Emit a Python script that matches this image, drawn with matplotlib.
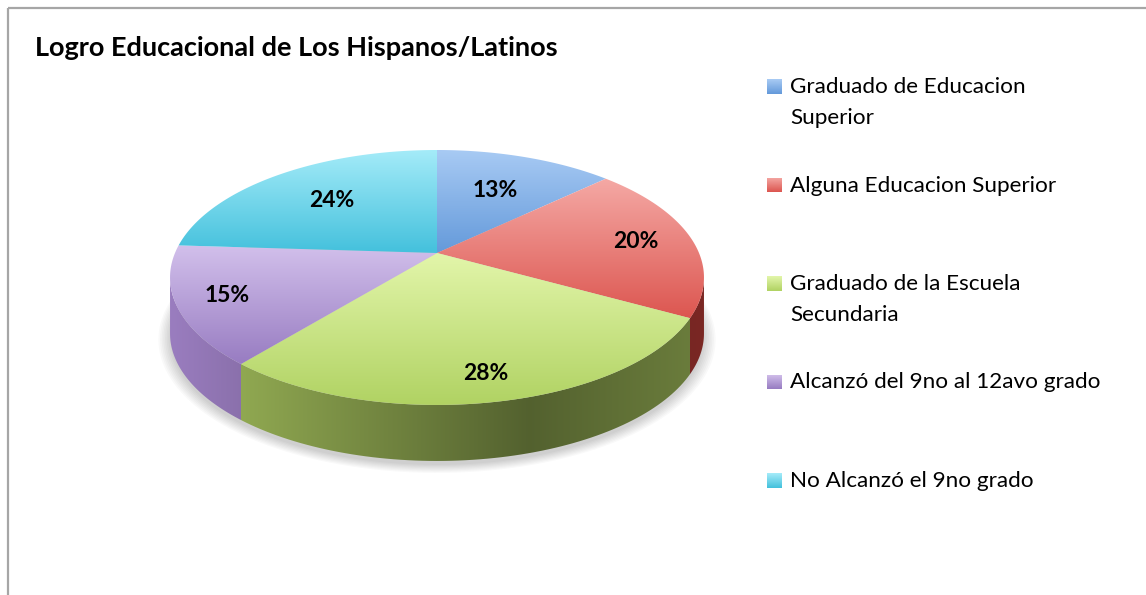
import numpy as np
import matplotlib
matplotlib.use('Agg')
import matplotlib.pyplot as plt
from matplotlib.patches import Polygon, Rectangle
from matplotlib.colors import to_rgb

# data
categories = ['Graduado de Educacion\nSuperior', 'Alguna Educacion Superior',
              'Graduado de la Escuela\nSecundaria', 'Alcanzó del 9no al 12avo grado',
              'No Alcanzó el 9no grado']
values = [13, 20, 28, 15, 24]
pct_labels = ['13%', '20%', '28%', '15%', '24%']

# colours: top face gradient (light -> dark) and side base colour
top_light = ['#a9cbf4', '#f5aaa6', '#e3f6ab', '#d3c1ec', '#a6ecf9']
top_dark = ['#6399da', '#dc554f', '#b0d262', '#977bc1', '#42c0dc']
side_base = ['#4f7fc0', '#b53a35', '#a0bb5a', '#9a7dbf', '#3aa8c4']
label_r = [0.62, 0.78, 0.84, 0.82, 0.64]

W, H = 1146, 595
cx, cy, rx = 437, 253, 262
pa, pc = 74.2, -0.192      # simple perspective
depth = 56


def project(t, r=1.0, dy=0.0):
    u = r * np.cos(t)
    v = -r * np.sin(t)
    d = 1 + pc * v
    return cx + rx * u / d, (pa * v + cy) / d + dy


def grad_image(ax, poly, c0, c1, ext, horizontal=False, shade=None):
    x0, x1, y0, y1 = ext
    n = 200
    s = np.linspace(0, 1, n)
    a, b = np.array(to_rgb(c0)), np.array(to_rgb(c1))
    cols = a[None, :] * (1 - s[:, None]) + b[None, :] * s[:, None]
    if shade is not None:
        cols = np.clip(cols * shade[:, None], 0, 1)
    if horizontal:
        img = cols[None, :, :].repeat(2, axis=0)
    else:
        img = cols[:, None, :].repeat(2, axis=1)
    im = ax.imshow(img, extent=[x0, x1, y1, y0], aspect='auto',
                   interpolation='bilinear', zorder=poly.get_zorder())
    im.set_clip_path(poly)


fig = plt.figure(figsize=(W / 100, H / 100), dpi=100)
ax = fig.add_axes([0, 0, 1, 1])
ax.set_xlim(0, W)
ax.set_ylim(H, 0)
ax.axis('off')

# chart frame
ax.add_patch(Rectangle((8, 8), W + 20, H + 20, fill=False, edgecolor='#a6a6a6', lw=1.6))

fracs = np.array(values) / sum(values)
starts = np.deg2rad(90 - 360 * np.concatenate([[0], np.cumsum(fracs)[:-1]]))
ends = np.deg2rad(90 - 360 * np.cumsum(fracs))

# soft shadow
for k in range(8):
    tt = np.linspace(0, 2 * np.pi, 200)
    sx, sy = project(tt, 1.0 + 0.006 * k, depth + 4)
    ax.add_patch(Polygon(np.c_[sx, sy], closed=True, facecolor='#000000',
                         edgecolor='none', alpha=0.025, zorder=1))

# sides (front part only, between silhouettes)
ts_right = np.arcsin(pc)
ts_left = -np.pi - np.arcsin(pc)
sx_all = np.linspace(170, 710, 200)
shade = np.interp(sx_all, [170, 240, 530, 710], [1.0, 0.9, 0.52, 0.68])
for i in range(len(values)):
    hi = min(starts[i], ts_right)
    lo = max(ends[i], ts_left)
    if hi <= lo:
        continue
    tt = np.linspace(hi, lo, 80)
    x1, y1 = project(tt)
    x2, y2 = project(tt[::-1], dy=depth)
    poly = Polygon(np.c_[np.r_[x1, x2], np.r_[y1, y2]], closed=True,
                   facecolor='none', edgecolor='none', zorder=2)
    ax.add_patch(poly)
    grad_image(ax, poly, side_base[i], side_base[i], (170, 710, 140, 470),
               horizontal=True, shade=shade)

# top faces
for i in range(len(values)):
    tt = np.linspace(starts[i], ends[i], 120)
    x, y = project(tt)
    xs = np.r_[cx, x]
    ys = np.r_[cy, y]
    poly = Polygon(np.c_[xs, ys], closed=True, facecolor='none',
                   edgecolor='none', zorder=3)
    ax.add_patch(poly)
    grad_image(ax, poly, top_light[i], top_dark[i],
               (xs.min() - 2, xs.max() + 2, ys.min() - 2, ys.max() + 2))

# percentage labels
for i in range(len(values)):
    tm = (starts[i] + ends[i]) / 2
    lx, ly = project(tm, label_r[i])
    ax.text(lx, ly, pct_labels[i], ha='center', va='center', fontsize=16.5,
            fontweight='bold', family='Lato', color='black', zorder=5)

# title
ax.text(35, 48, 'Logro Educacional de Los Hispanos/Latinos', ha='left', va='center',
        fontsize=19.5, fontweight='bold', family='Lato', color='black')

# legend
leg_y0, leg_dy, line_dy = 87, 98.5, 31
for i in range(len(values)):
    ry = leg_y0 + leg_dy * i
    sq = Rectangle((767, ry - 8), 15, 15, facecolor='none', edgecolor='none', zorder=3)
    ax.add_patch(sq)
    grad_image(ax, sq, top_light[i], top_dark[i], (767, 782, ry - 8, ry + 7))
    for j, line in enumerate(categories[i].split('\n')):
        ax.text(790, ry + line_dy * j, line, ha='left', va='center',
                fontsize=16.2, family='Lato', color='black')

ax.set_xlim(0, W)
ax.set_ylim(H, 0)
fig.savefig('out.png', dpi=100)
